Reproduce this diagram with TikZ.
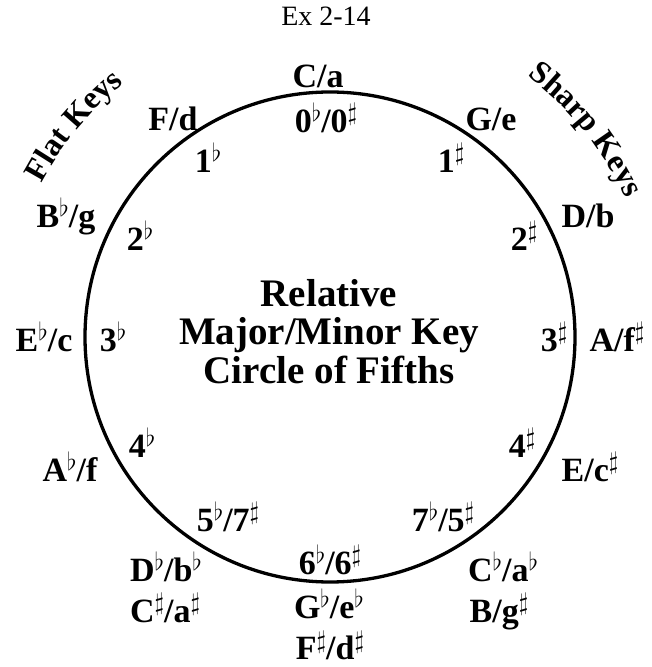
\documentclass[tikz,border=0pt]{standalone}
\usepackage{fontspec}
\setmainfont{Liberation Serif}
\usetikzlibrary{decorations.text}
\newcommand{\fl}{\raisebox{11pt}{\fontsize{26}{26}\selectfont$\flat$}}
\newcommand{\sh}{\raisebox{12pt}{\fontsize{25}{25}\selectfont$\sharp$}}
\begin{document}
\begin{tikzpicture}[x=1pt,y=1pt,
  lbl/.style={font=\fontsize{34}{34}\selectfont\bfseries, anchor=base, inner sep=0pt},
  ttl/.style={font=\fontsize{39}{39}\selectfont\bfseries, anchor=base, inner sep=0pt},
  ring/.style={draw, circle, line width=3.3pt, minimum size=490pt, inner sep=0pt}]
\useasboundingbox (0,0) rectangle (652,667);
\node[anchor=base, inner sep=0pt, font=\fontsize{28}{28}\selectfont] (ex) at (326,641) {Ex 2-14};
\node[ring] (circ) at (330,330) {};
% outer labels
\node[lbl] (k0) at (318,579) {C/a};
\node[lbl] (k1) at (491,536) {G/e};
\node[lbl] (k2) at (588,439) {D/b};
\node[lbl] (k3) at (617,315) {A/f\sh};
\node[lbl] (k4) at (590,185) {E/c\sh};
\node[lbl] (k5a) at (503,85) {C\fl/a\fl};
\node[lbl] (k5b) at (499,45) {B/g\sh};
\node[lbl] (k6a) at (329,48) {G\fl/e\fl};
\node[lbl] (k6b) at (330,7) {F\sh/d\sh};
\node[lbl] (k7a) at (166,85) {D\fl/b\fl};
\node[lbl] (k7b) at (165,45) {C\sh/a\sh};
\node[lbl] (k8) at (70,185) {A\fl/f};
\node[lbl] (k9) at (44,315) {E\fl/c};
\node[lbl] (k10) at (66,439) {B\fl/g};
\node[lbl] (k11) at (173,536) {F/d};
% inner numbers
\node[lbl] (n0) at (326,534) {0\fl/0\sh};
\node[lbl] (n1s) at (451,494) {1\sh};
\node[lbl] (n2s) at (524,416) {2\sh};
\node[lbl] (n3s) at (554,315) {3\sh};
\node[lbl] (n4s) at (522,209) {4\sh};
\node[lbl] (n5) at (443,135) {7\fl/5\sh};
\node[lbl] (n6) at (330,92) {6\fl/6\sh};
\node[lbl] (n7) at (228,135) {5\fl/7\sh};
\node[lbl] (n4f) at (142,209) {4\fl};
\node[lbl] (n3f) at (113,315) {3\fl};
\node[lbl] (n2f) at (140,416) {2\fl};
\node[lbl] (n1f) at (208,494) {1\fl};
% centre title
\node[ttl] (t1) at (329,360) {Relative};
\node[ttl] (t2) at (329,322) {Major/Minor Key};
\node[ttl] (t3) at (329,283) {Circle of Fifths};
% curved headings
\path[shift={(330,330)}, decorate, decoration={text along path, text align=center,
  text={|\fontsize{32}{32}\selectfont\bfseries|Flat Keys}}]
  (155:327) arc[start angle=155, end angle=126, radius=327];
\path[shift={(330,330)}, decorate, decoration={text along path, text align=center,
  text={|\fontsize{32}{32}\selectfont\bfseries|Sharp Keys}}]
  (56:327) arc[start angle=56, end angle=22, radius=327];
\end{tikzpicture}
\end{document}
